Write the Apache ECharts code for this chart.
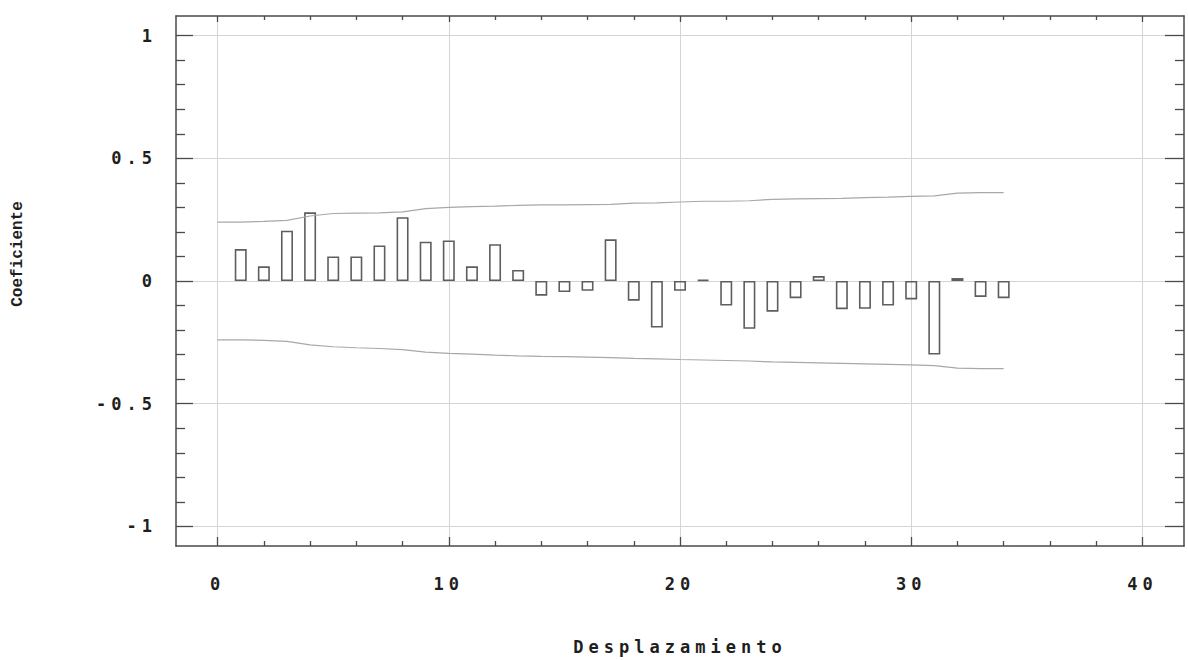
<!DOCTYPE html>
<html>
<head>
<meta charset="utf-8">
<script src="https://cdn.jsdelivr.net/npm/echarts@6/dist/echarts.min.js"></script>
<style>
  html, body { margin: 0; padding: 0; background: #fff; }
  #chart { width: 1188px; height: 660px; }
  #chart text[style*="DejaVu"], #chart text[font-family*="DejaVu"] { letter-spacing: 5px; }
</style>
</head>
<body>
<div id="chart"></div>
<script>
// ---- data ----
const lags = [1,2,3,4,5,6,7,8,9,10,11,12,13,14,15,16,17,18,19,20,21,22,23,24,25,26,27,28,29,30,31,32,33,34];
const acf = [0.13,0.06,0.205,0.28,0.10,0.10,0.145,0.26,0.16,0.165,0.06,0.15,0.045,-0.06,-0.045,-0.04,0.17,-0.08,-0.19,-0.04,0.005,-0.10,-0.195,-0.125,-0.07,0.02,-0.115,-0.113,-0.10,-0.075,-0.30,0.012,-0.065,-0.07];
const bandLags = [0,1,2,3,4,5,6,7,8,9,10,11,12,13,14,15,16,17,18,19,20,21,22,23,24,25,26,27,28,29,30,31,32,33,34];
const upperBand = [0.24,0.24,0.243,0.247,0.265,0.275,0.277,0.278,0.282,0.295,0.30,0.303,0.305,0.308,0.31,0.31,0.311,0.312,0.317,0.318,0.322,0.325,0.325,0.327,0.333,0.335,0.336,0.337,0.34,0.342,0.345,0.347,0.358,0.36,0.36];
const lowerBand = [-0.24,-0.24,-0.242,-0.246,-0.26,-0.268,-0.272,-0.275,-0.28,-0.29,-0.295,-0.298,-0.302,-0.305,-0.307,-0.308,-0.31,-0.312,-0.315,-0.317,-0.32,-0.322,-0.324,-0.326,-0.33,-0.332,-0.334,-0.336,-0.338,-0.34,-0.342,-0.345,-0.355,-0.357,-0.357];
const xMajorTicks = [0,10,20,30,40];
const xMinorTicks = [2,4,6,8,12,14,16,18,22,24,26,28,32,34,36,38];
const yMajorTicks = [-1,-0.5,0,0.5,1];
const yMinorTicks = [-0.9,-0.8,-0.7,-0.6,-0.4,-0.3,-0.2,-0.1,0.1,0.2,0.3,0.4,0.6,0.7,0.8,0.9];
const xTitle = 'Desplazamiento';
const yTitle = 'Coeficiente';

// ---- chart ----
const FONT = 'DejaVu Sans Mono';
const boxColor = '#4a4a4a';
const gridColor = '#d4d4d4';
const X_MIN = -1.8, X_MAX = 41.8, Y_MIN = -1.08, Y_MAX = 1.08;

function xAx(extra) {
  return Object.assign({
    type: 'value', min: X_MIN, max: X_MAX, gridIndex: 0,
    axisLine: { show: false, onZero: false }, axisLabel: { show: false },
    splitLine: { show: false }, axisTick: { show: false }
  }, extra);
}
function yAx(extra) {
  return Object.assign({
    type: 'value', min: Y_MIN, max: Y_MAX, gridIndex: 0,
    axisLine: { show: false, onZero: false }, axisLabel: { show: false },
    splitLine: { show: false }, axisTick: { show: false }
  }, extra);
}
const tickStyle = { color: boxColor, width: 1.3 };
const labelFont = { color: '#1e1e1e', fontFamily: FONT, fontWeight: 'bold', fontSize: 17 };

const chart = echarts.init(document.getElementById('chart'), null, { renderer: 'svg' });
chart.setOption({
  animation: false,
  backgroundColor: '#fff',
  grid: { left: 176, right: 4, top: 16, bottom: 114, containLabel: false },
  xAxis: [
    xAx({
      position: 'bottom',
      axisLine: { show: true, onZero: false, lineStyle: { color: boxColor, width: 1.5 } },
      axisTick: { show: true, inside: true, length: 9, customValues: xMajorTicks, lineStyle: tickStyle },
      axisLabel: Object.assign({ show: true, customValues: xMajorTicks, margin: 29 }, labelFont),
      splitLine: { show: true, lineStyle: { color: gridColor, width: 1 } },
      name: xTitle, nameLocation: 'middle', nameGap: 92,
      nameTextStyle: Object.assign({}, labelFont)
    }),
    xAx({ position: 'bottom',
      axisTick: { show: true, inside: true, length: 5, customValues: xMinorTicks, lineStyle: tickStyle } }),
    xAx({ position: 'top',
      axisLine: { show: true, onZero: false, lineStyle: { color: boxColor, width: 1.5 } },
      axisTick: { show: true, inside: true, length: 6, customValues: xMajorTicks, lineStyle: tickStyle } }),
    xAx({ position: 'top',
      axisTick: { show: true, inside: true, length: 4, customValues: xMinorTicks, lineStyle: tickStyle } })
  ],
  yAxis: [
    yAx({
      position: 'left',
      axisLine: { show: true, onZero: false, lineStyle: { color: boxColor, width: 1.5 } },
      axisTick: { show: true, inside: true, length: 17, customValues: yMajorTicks, lineStyle: tickStyle },
      axisLabel: Object.assign({ show: true, customValues: yMajorTicks, margin: 19,
        formatter: v => String(Math.round(v * 10) / 10) }, labelFont),
      splitLine: { show: true, lineStyle: { color: gridColor, width: 1 } },
      name: yTitle, nameLocation: 'middle', nameGap: 150,
      nameTextStyle: { color: '#1e1e1e', fontFamily: 'Liberation Mono', fontWeight: 'bold', fontSize: 16,
        padding: [0, 0, 0, 54] }
    }),
    yAx({ position: 'left',
      axisTick: { show: true, inside: true, length: 9, customValues: yMinorTicks, lineStyle: tickStyle } }),
    yAx({ position: 'right',
      axisLine: { show: true, onZero: false, lineStyle: { color: boxColor, width: 1.5 } },
      axisTick: { show: true, inside: true, length: 19, customValues: yMajorTicks, lineStyle: tickStyle } }),
    yAx({ position: 'right',
      axisTick: { show: true, inside: true, length: 9, customValues: yMinorTicks, lineStyle: tickStyle } })
  ],
  series: [
    {
      type: 'bar', xAxisIndex: 0, yAxisIndex: 0,
      data: lags.map((l, i) => [l, acf[i]]),
      barWidth: 12,
      itemStyle: { color: 'rgba(255,255,255,0)', borderColor: '#5e5e5e', borderWidth: 1.6 },
      silent: true
    },
    {
      type: 'line', xAxisIndex: 0, yAxisIndex: 0,
      data: bandLags.map((l, i) => [l, upperBand[i]]),
      showSymbol: false, symbol: 'none',
      lineStyle: { color: '#a8a8a8', width: 1.2 }, silent: true
    },
    {
      type: 'line', xAxisIndex: 0, yAxisIndex: 0,
      data: bandLags.map((l, i) => [l, lowerBand[i]]),
      showSymbol: false, symbol: 'none',
      lineStyle: { color: '#a8a8a8', width: 1.2 }, silent: true
    }
  ]
});
</script>
</body>
</html>
